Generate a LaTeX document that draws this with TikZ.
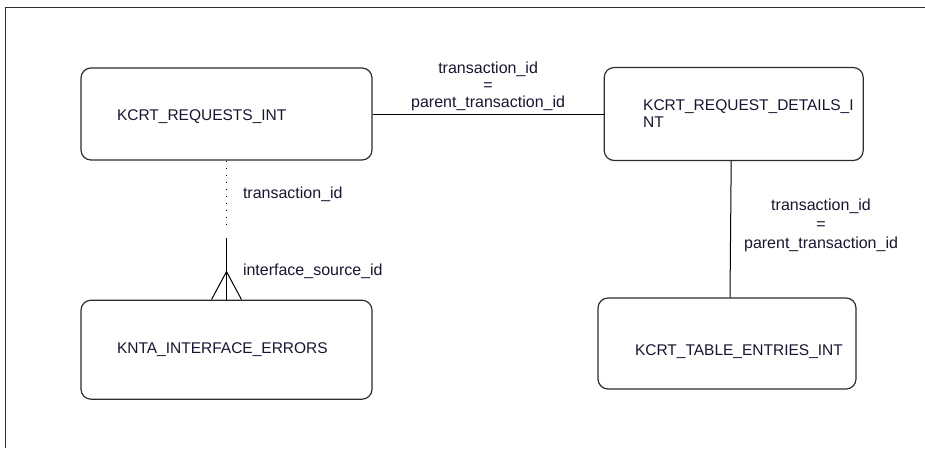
\documentclass[tikz,border=0pt]{standalone}
\usepackage{fontspec}
\setmainfont{Liberation Sans}
\usetikzlibrary{calc,shapes,positioning}
\definecolor{erd_line}{RGB}{45,45,45}
\definecolor{erd_text}{RGB}{25,20,50}

\begin{document}
\begin{tikzpicture}[x=1pt,y=-1pt,font=\fontsize{15.5}{19}\selectfont,line width=1pt,every node/.style=rectangle,
    entity/.style={draw=erd_line, rounded corners=10pt, line width=1.2pt, minimum height=92pt, minimum width=291pt, text width=219pt, align=left, inner xsep=36pt, inner ysep=0pt, text=erd_text},
    relation/.style={align=center, text=erd_text, inner sep=0pt, font=\fontsize{16}{19}\selectfont},
    key/.style={text=erd_text, inner sep=0pt, font=\fontsize{16}{19}\selectfont},
    ]
    \useasboundingbox (0,0) rectangle (925,448);
    \draw[erd_line] (5,448) -- (5,7) -- (925,7);

    \node[entity, text height=17pt] (requests) at (226.5,114) {KCRT\_REQUESTS\_INT};
    \node[entity, minimum width=259pt, minimum height=93pt, text width=181pt, inner xsep=39pt, right=231pt of requests, font=\fontsize{15.5}{17}\selectfont] (details) {KCRT\_REQUEST\_DETAILS\_I\\NT};
    \node[entity, minimum height=99pt, below=139pt of requests] (errors) {KNTA\_INTERFACE\_ERRORS};
    \node[entity, minimum width=258pt, minimum height=91pt, text width=184pt, inner xsep=37pt, text height=27pt] (entries) at (727,343.5) {KCRT\_TABLE\_ENTRIES\_INT};

    % relations
    \draw (requests.east) -- (details.west) node[relation, midway, above=3pt, font=\fontsize{16}{17}\selectfont] {transaction\_id\\=\\parent\_transaction\_id};
    \draw ([xshift=-2.5pt]details.south) -- ([xshift=3pt]entries.north) node[relation, midway, right=13pt, yshift=4pt] {transaction\_id\\=\\parent\_transaction\_id};

    \coordinate (dotEnd) at ($(requests.south)+(0,68)$);
    \coordinate (solidTop) at ($(errors.north)+(0,-62)$);
    \coordinate (crow) at ($(errors.north)+(0,-28)$);
    \draw[dash pattern=on 1pt off 6pt] (requests.south) -- (dotEnd) node[key, midway, right=16pt] {transaction\_id};
    \draw (solidTop) -- (errors.north);
    \draw ([xshift=-15pt]errors.north) -- (crow) node[key, right=16pt] {interface\_source\_id} -- ([xshift=15pt]errors.north);
\end{tikzpicture}
\end{document}
